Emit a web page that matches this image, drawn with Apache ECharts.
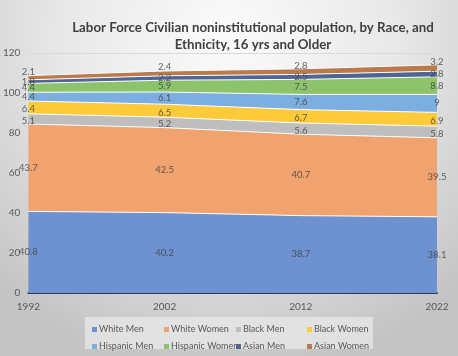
<!DOCTYPE html>
<html><head><meta charset="utf-8">
<script src="https://cdn.jsdelivr.net/npm/echarts@6/dist/echarts.min.js"></script>
<style>html,body{margin:0;padding:0;}#c{width:458px;height:356px;}</style>
</head><body><div id="c"></div>
<script>
const years = ['1992','2002','2012','2022'];
const whiteMen = [40.8, 40.2, 38.7, 38.1];
const whiteWomen = [43.7, 42.5, 40.7, 39.5];
const blackMen = [5.1, 5.2, 5.6, 5.8];
const blackWomen = [6.4, 6.5, 6.7, 6.9];
const hispanicMen = [4.4, 6.1, 7.6, 9];
const hispanicWomen = [4.4, 5.9, 7.5, 8.8];
const asianMen = [1.8, 2.2, 2.5, 2.8];
const asianWomen = [2.1, 2.4, 2.8, 3.2];
const yTicks = [0, 20, 40, 60, 80, 100, 120];

const seriesDefs = [
  ['White Men', whiteMen, '#6E92D0', 0],
  ['White Women', whiteWomen, '#F0A36E', 0],
  ['Black Men', blackMen, '#BEBEBE', 2],
  ['Black Women', blackWomen, '#FDCA3A', 2],
  ['Hispanic Men', hispanicMen, '#7DAEE0', 0],
  ['Hispanic Women', hispanicWomen, '#8DC36B', 0],
  ['Asian Men', asianMen, '#4F6595', 0],
  ['Asian Women', asianWomen, '#BA7A4E', -6]
];

const series = [];
const cum = years.map(() => 0);
seriesDefs.forEach(([name, vals, color, dy]) => {
  series.push({
    name, type: 'line', stack: 'total', data: vals,
    symbol: 'none', smooth: false,
    lineStyle: {color: '#ffffff', width: 1},
    itemStyle: {color},
    areaStyle: {color, opacity: 1},
    z: 2
  });
  const mids = vals.map((v, i) => [i, cum[i] + v / 2, v]);
  vals.forEach((v, i) => { cum[i] += v; });
  series.push({
    type: 'scatter', data: mids, symbolSize: 0, silent: true, z: 5,
    label: {show: true, position: 'inside', offset: [0, dy], formatter: p => String(p.data[2]),
      fontSize: 9.5, color: '#404040', fontFamily: 'Lato'}
  });
});

const colLeft = [87, 159, 231, 302];
const rowTop = [320, 337];
const legends = seriesDefs.map(([name], k) => ({
  left: colLeft[k % 4], top: rowTop[Math.floor(k / 4)], data: [name],
  icon: 'rect', itemWidth: 5, itemHeight: 5,
  textStyle: {fontSize: 9, color: '#595959', fontFamily: 'Lato', padding: [0,0,0,-3]}
}));

const chart = echarts.init(document.getElementById('c'));
chart.setOption({
  animation: false,
  backgroundColor: {type: 'radial', x: 0.5, y: 0.1, r: 0.95,
    colorStops: [{offset: 0, color: '#fbfbfb'}, {offset: 0.5, color: '#e8e8e8'}, {offset: 1, color: '#c4c4c4'}]},
  title: {text: 'Labor Force Civilian noninstitutional population, by Race, and\nEthnicity, 16 yrs and Older',
    left: 248, top: 14, textAlign: 'center',
    textStyle: {fontFamily: 'Lato', fontWeight: 'bold', fontSize: 13.3, color: '#404040', lineHeight: 17}},
  graphic: [{type: 'rect', left: 85, top: 317, shape: {width: 288, height: 32},
    style: {fill: 'rgba(235,235,235,0.7)'}, z: -1}],
  legend: legends,
  grid: {left: 28, right: 21, top: 53, bottom: 63},
  xAxis: {type: 'category', data: years, boundaryGap: false,
    axisLine: {lineStyle: {color: '#2E3A55', width: 2}}, axisTick: {show: false},
    axisLabel: {fontSize: 10, color: '#595959', margin: 9, fontFamily: 'Lato'}},
  yAxis: {type: 'value', min: yTicks[0], max: yTicks[yTicks.length-1], interval: 20,
    axisLine: {show: false}, axisTick: {show: false},
    splitLine: {lineStyle: {color: '#d9d9d9'}},
    axisLabel: {fontSize: 10, color: '#595959', margin: 8, fontFamily: 'Lato'}},
  series
});
</script></body></html>
